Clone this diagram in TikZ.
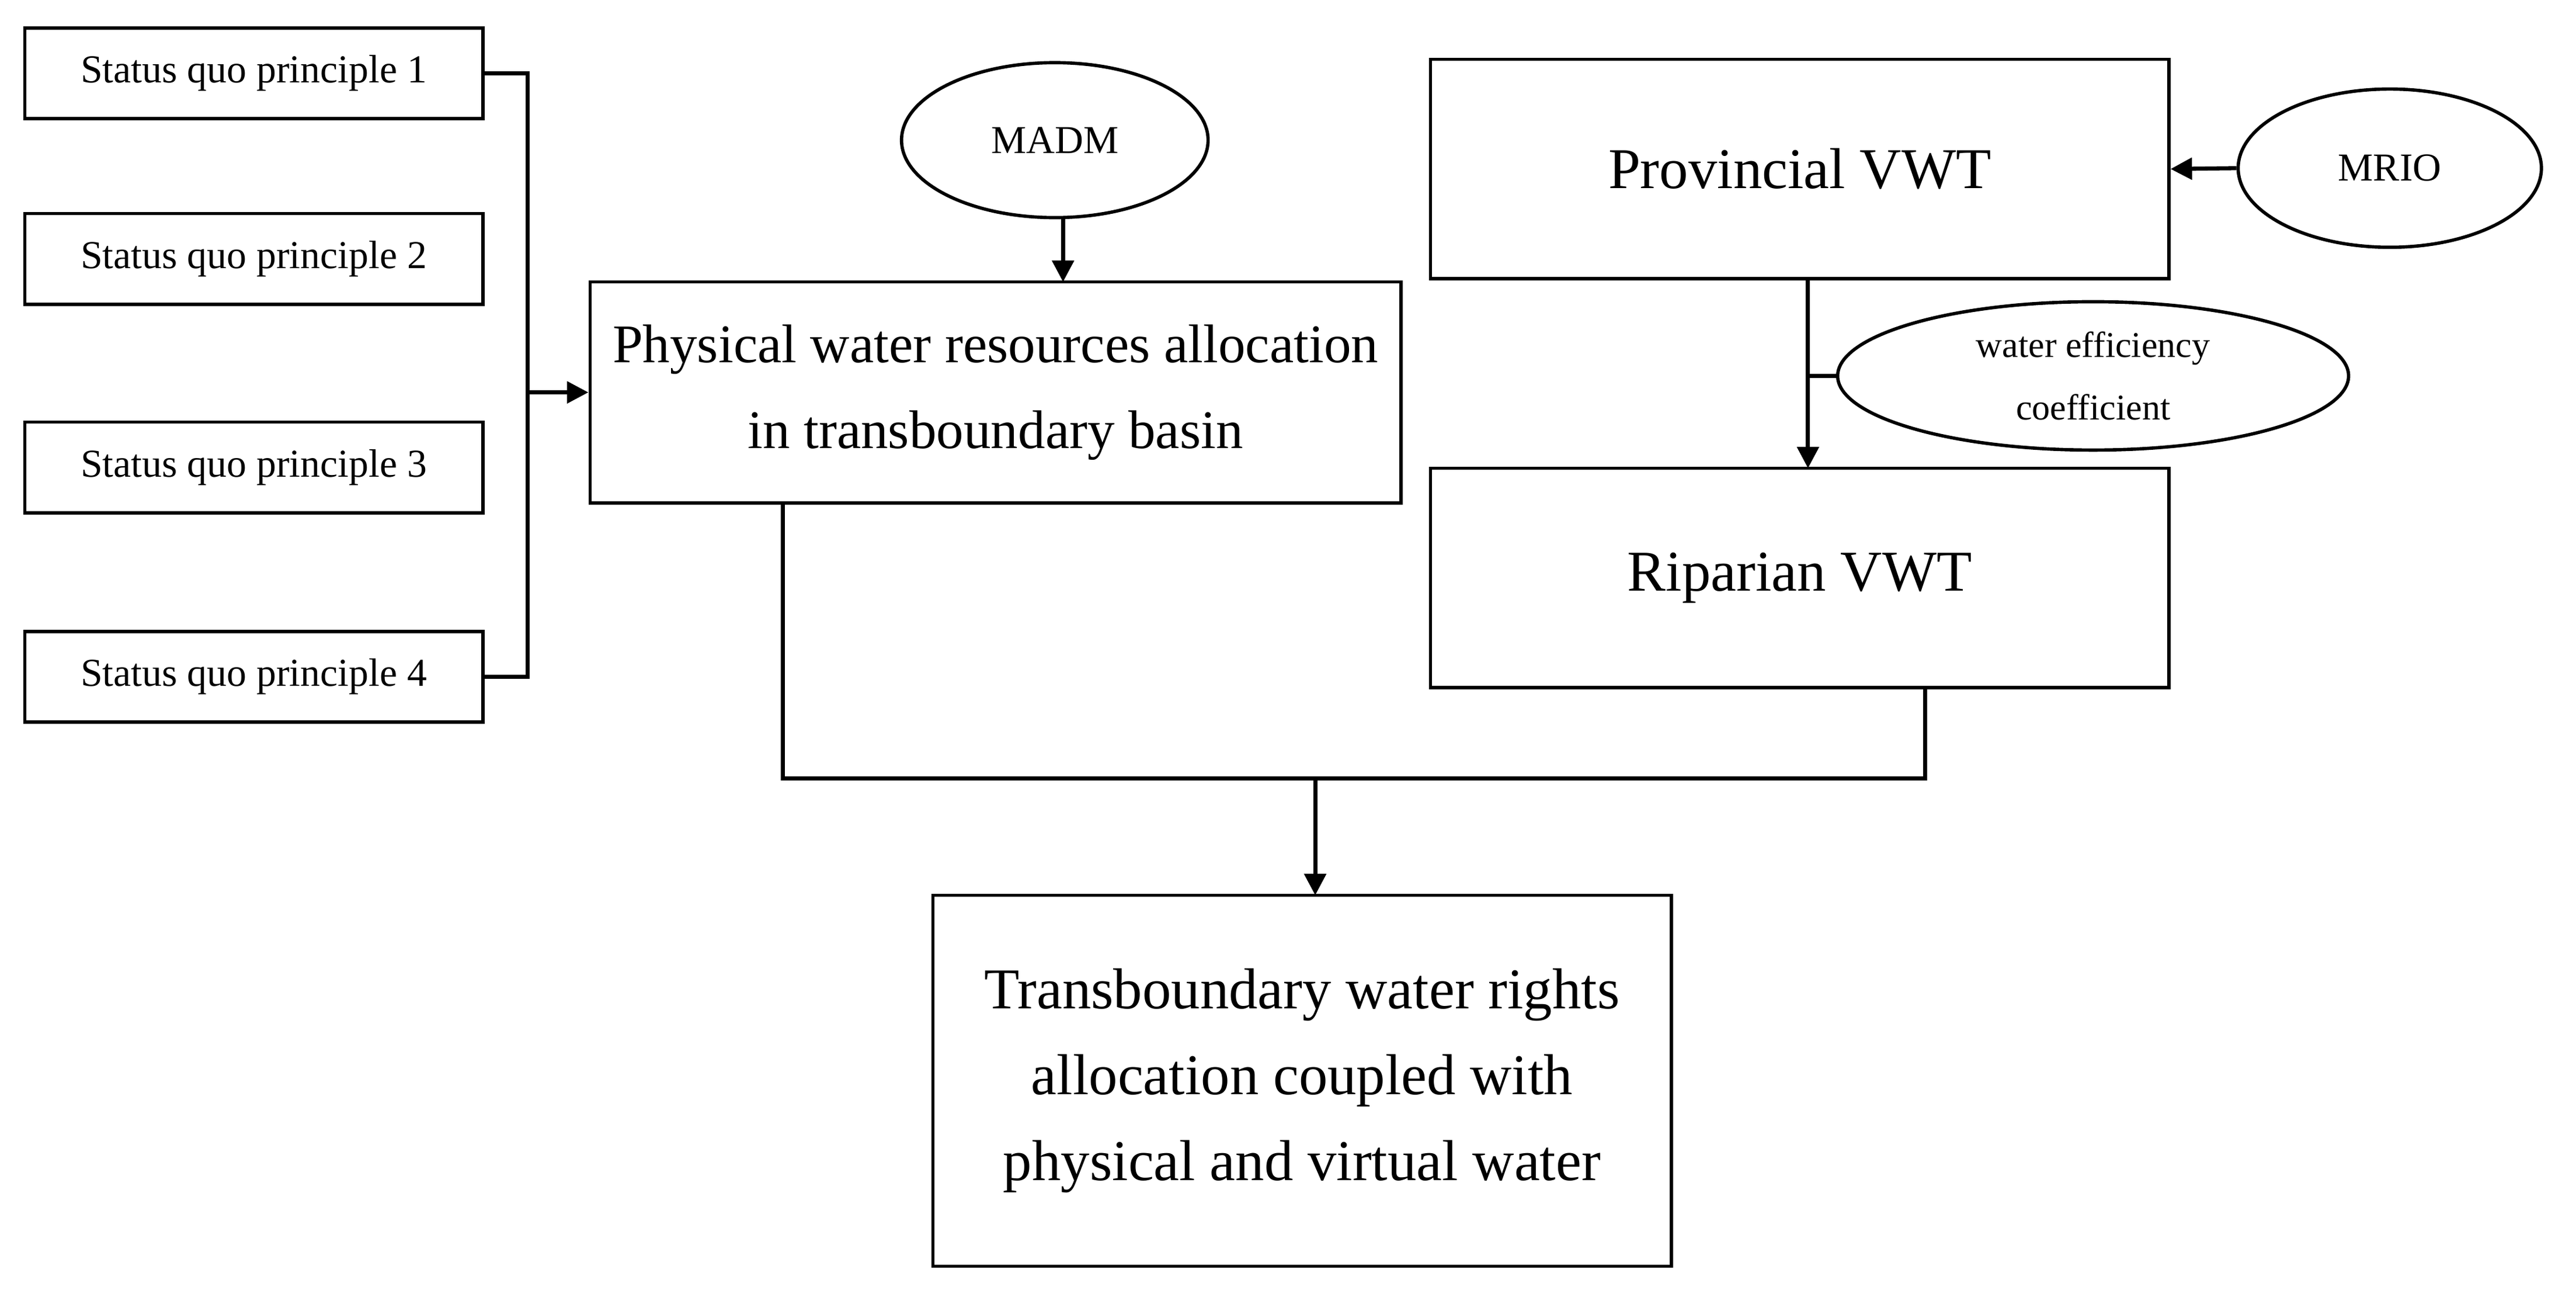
\documentclass[tikz,border=0pt]{standalone}
\usepackage{fontspec}
\setmainfont{Liberation Serif}
\usetikzlibrary{shapes.geometric,arrows.meta}
\begin{document}
\begin{tikzpicture}[x=1pt,y=-1pt,
 box/.style={draw,line width=2pt,align=center,inner sep=0pt},
 ell/.style={draw,ellipse,line width=2pt,align=center,inner sep=0pt},
 ln/.style={line width=2.5pt},
 arr/.style={line width=2.5pt,-{Triangle[length=13pt,width=13pt]}},
 small/.style={font=\fontsize{24}{28}\selectfont},
 big/.style={font=\fontsize{35}{52}\selectfont}]
\useasboundingbox (0,0) rectangle (1563,789);
\foreach \i/\y in {1/44.5,2/157,3/283.5,4/410.5}
 \node[box,small,minimum width=278pt,minimum height=55pt] (s\i) at (154,\y) {Status quo principle \i};
\node[box,font=\fontsize{33}{52}\selectfont,minimum width=492pt,minimum height=134pt] (phys) at (604,238) {Physical water resources allocation\\in transboundary basin};
\node[ell,small,minimum width=186pt,minimum height=94pt] (madm) at (640,85) {MADM};
\node[box,big,minimum width=448pt,minimum height=133pt] (prov) at (1092,102.5) {Provincial VWT};
\node[ell,small,minimum width=184pt,minimum height=96pt] (mrio) at (1450,102) {MRIO};
\node[box,big,minimum width=448pt,minimum height=133pt] (rip) at (1092,350.5) {Riparian VWT};
\node[ell,small,minimum width=310pt,minimum height=90pt,font=\fontsize{22}{38}\selectfont] (wec) at (1270,228) {water efficiency\\coefficient};
\node[box,big,minimum width=448pt,minimum height=225pt] (fin) at (790,655.5) {Transboundary water rights\\allocation coupled with\\physical and virtual water};
\coordinate (bx) at (320,0);
\draw[ln] (s1.east) -| (bx |- s4.east) -- (s4.east);
\draw[arr] (bx |- phys.west) -- (phys.west);
\draw[arr] (645,132) -- (645,171);
\draw[arr] (mrio.west) -- (prov.east);
\draw[arr] (1097,169) -- (1097,284);
\draw[ln] (1097,228) -- (wec.west);
\coordinate (jl) at (475,472);
\coordinate (jr) at (1168,472);
\draw[ln] (475,305) -- (jl) -- (jr) -- (1168,417);
\draw[arr] (798,472) -- (798,543);
\end{tikzpicture}
\end{document}
